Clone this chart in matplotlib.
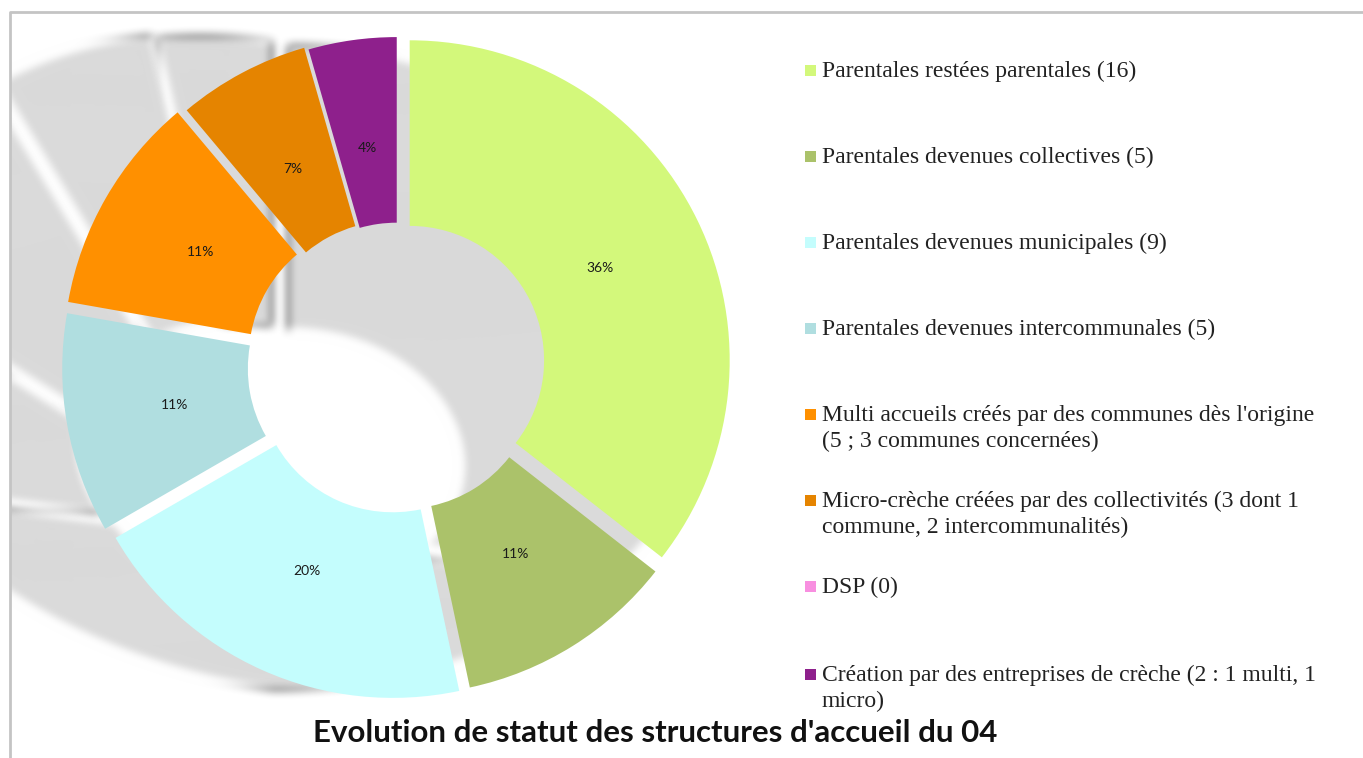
import numpy as np
import matplotlib
matplotlib.use("Agg")
import matplotlib.pyplot as plt
from matplotlib.patches import Polygon, Rectangle

# data
labels = [
    "Parentales restées parentales (16)",
    "Parentales devenues collectives (5)",
    "Parentales devenues municipales (9)",
    "Parentales devenues intercommunales (5)",
    "Multi accueils créés par des communes dès l'origine\n(5 ; 3 communes concernées)",
    "Micro-crèche créées par des collectivités (3 dont 1\ncommune, 2 intercommunalités)",
    "DSP (0)",
    "Création par des entreprises de crèche (2 : 1 multi, 1\nmicro)",
]
values = [16, 5, 9, 5, 5, 3, 0, 2]
colors = ["#d3f87b", "#abc26a", "#c4fdfd", "#b0dee0",
          "#ff9000", "#e58400", "#f88fe0", "#8e208c"]
title = "Evolution de statut des structures d'accueil du 04"

W, H = 1363, 758
R = 320
hole = 0.42
center = (398, H - 366)
explode = [13, 10, 13, 16, 17, 12, 0, 9]

fig = plt.figure(figsize=(W / 100, H / 100), dpi=100)
ax = fig.add_axes([0, 0, 1, 1])


def box_blur(a, r, axis):
    a = np.moveaxis(a, axis, 0)
    p = np.pad(a, [(r + 1, r)] + [(0, 0)] * (a.ndim - 1))
    c = np.cumsum(p, axis=0)
    out = (c[2 * r + 1:] - c[:-2 * r - 1]) / (2 * r + 1)
    return np.moveaxis(out, 0, axis)


def blur_filter(im, dpi):
    pad = 30
    im = np.pad(im, [(pad, pad), (pad, pad), (0, 0)])
    for _ in range(3):
        im = box_blur(im, 4, 0)
        im = box_blur(im, 4, 1)
    return im, -pad, -pad


# shadow: perspective-like copy of the ring, stretched towards the left
total = sum(values)
start = 90.0
for v, e in zip(values, explode):
    if v == 0:
        continue
    sweep = 360.0 * v / total
    t1, t2 = start - sweep, start
    start = t1
    mid = np.radians((t1 + t2) / 2)
    t = np.radians(np.linspace(t1, t2, 60))
    ox, oy = e / R * np.cos(mid), e / R * np.sin(mid)
    rad = np.concatenate([np.ones_like(t), np.full_like(t, hole)])
    ang = np.concatenate([t, t[::-1]])
    xs = rad * np.cos(ang) + ox
    ys = rad * np.sin(ang) + oy
    sx = 1.3 * (xs - 1.3) + 1.3
    sy = (ys * (0.98 + 0.08 * ys) - 0.08 - 0.2 * np.minimum(xs, 0)
          - 0.25 * (1 - rad) / (1 - hole))
    pts = np.column_stack([center[0] + R * sx, center[1] + R * sy])
    sh = Polygon(pts, closed=True, facecolor="#dadada", edgecolor="none", zorder=1)
    sh.set_agg_filter(blur_filter)
    ax.add_patch(sh)


def pct(p):
    return f"{p:1.0f}%" if p > 0.5 else ""


wedges, _, autotexts = ax.pie(
    values, colors=colors, explode=explode, startangle=90, counterclock=False,
    radius=R, center=center, autopct=pct, pctdistance=0.66,
    wedgeprops=dict(width=R * (1 - hole), linewidth=0),
    textprops=dict(fontsize=10, family="Lato", color="#1a1a1a"),
)
for w in wedges:
    w.set_zorder(3)
for t in autotexts:
    t.set_zorder(4)

ax.set_xlim(0, W)
ax.set_ylim(0, H)
ax.set_aspect("auto")
ax.axis("off")

# mask shadow outside the frame, then the frame itself
ax.add_patch(Rectangle((0, 0), 10, H, facecolor="white", edgecolor="none", zorder=2))
ax.add_patch(Rectangle((0, H - 12), W, 12, facecolor="white", edgecolor="none", zorder=2))
ax.plot([10, 10, W], [0, H - 12, H - 12], color="#c4c4c4", lw=2, zorder=5)

# legend, one row every 86 px; wrapped labels keep their first line on the row
y = H - 71
for lab, col in zip(labels, colors):
    ax.add_patch(Rectangle((805, y - 5), 11, 11, facecolor=col, edgecolor="none", zorder=5))
    ax.text(822, y + 10, lab, fontsize=17, family="Liberation Serif", color="#222222",
            va="top", ha="left", linespacing=1.28, zorder=5)
    y -= 88 if lab == "DSP (0)" else 86

fig.text(655 / W, 1 - 733 / H, title, fontsize=22.5, fontweight="bold",
         family="Lato", ha="center", va="center", color="#111111")

fig.savefig("out.png", dpi=100, facecolor="white")
